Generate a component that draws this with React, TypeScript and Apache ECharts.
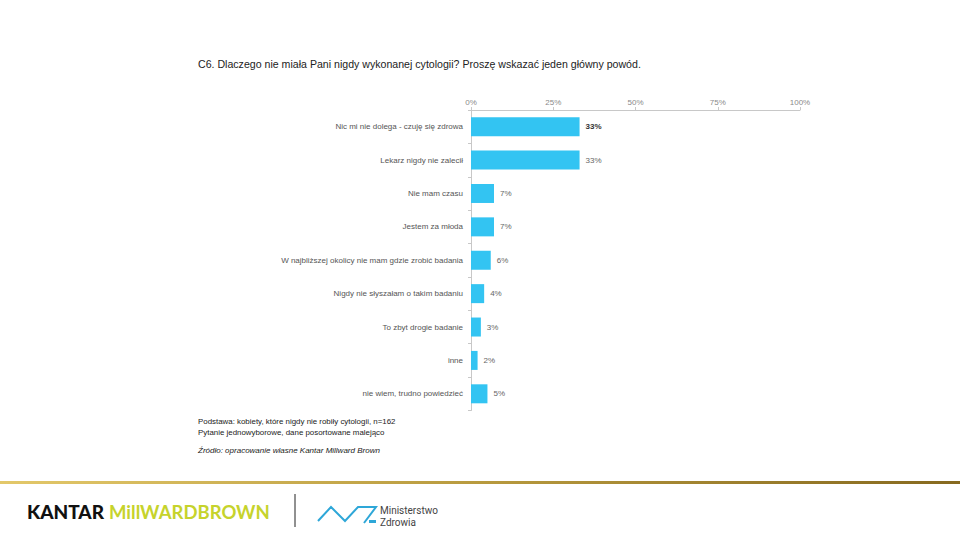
import React, { useEffect, useRef } from "react";
import * as echarts from "echarts";

const categories = [
  "Nic mi nie dolega - czuję się zdrowa",
  "Lekarz nigdy nie zalecił",
  "Nie mam czasu",
  "Jestem za młoda",
  "W najbliższej okolicy nie mam gdzie zrobić badania",
  "Nigdy nie słyszałam o takim badaniu",
  "To zbyt drogie badanie",
  "inne",
  "nie wiem, trudno powiedzieć",
];
const values = [33, 33, 7, 7, 6, 4, 3, 2, 5];
const xTicks = [0, 25, 50, 75, 100];

const title =
  "C6. Dlaczego nie miała Pani nigdy wykonanej cytologii? Proszę wskazać jeden główny powód.";
const notes = [
  "Podstawa: kobiety, które nigdy nie robiły cytologii, n=162",
  "Pytanie jednowyborowe, dane posortowane malejąco",
];
const source = "Źródło: opracowanie własne Kantar Millward Brown";

export default function App() {
  const ref = useRef<HTMLDivElement>(null);
  useEffect(() => {
    if (!ref.current) return;
    const chart = echarts.init(ref.current, null, { renderer: "svg" });
    const font = "Liberation Sans, Arial, sans-serif";
    chart.setOption({
      animation: false,
      backgroundColor: "#ffffff",
      textStyle: { fontFamily: font },
      grid: { left: 471, right: 160, top: 110, bottom: 129.5, containLabel: false },
      xAxis: {
        type: "value",
        position: "top",
        min: xTicks[0],
        max: xTicks[xTicks.length - 1],
        interval: 25,
        axisLine: { show: true, lineStyle: { color: "#c8c8c8", width: 1 } },
        axisTick: { show: true, length: 3, lineStyle: { color: "#c8c8c8" } },
        splitLine: { show: false },
        axisLabel: {
          formatter: "{value}%",
          color: "#8a8a8a",
          fontSize: 8,
          margin: 4,
          fontFamily: font,
        },
      },
      yAxis: {
        type: "category",
        inverse: true,
        data: categories,
        axisLine: { show: true, lineStyle: { color: "#c8c8c8", width: 1 } },
        axisTick: { show: true, length: 3, lineStyle: { color: "#c8c8c8" } },
        axisLabel: { color: "#555555", fontSize: 8, margin: 8, fontFamily: font },
      },
      series: [
        {
          type: "bar",
          data: values.map((v, i) => ({
            value: v,
            label: i === 0 ? { color: "#333333", fontWeight: "bold" } : undefined,
          })),
          barWidth: 19,
          itemStyle: { color: "#33c4f2" },
          label: {
            show: true,
            position: "right",
            distance: 6,
            formatter: "{c}%",
            color: "#666666",
            fontSize: 8,
            fontFamily: font,
          },
        },
      ],
      graphic: [
        {
          type: "text",
          left: 198,
          top: 58,
          style: { text: title, fill: "#222222", fontSize: 10.6, fontFamily: font },
        },
        {
          type: "text",
          left: 198,
          top: 417,
          style: { text: notes[0], fill: "#222222", fontSize: 7.9, fontFamily: font },
        },
        {
          type: "text",
          left: 198,
          top: 428,
          style: { text: notes[1], fill: "#222222", fontSize: 7.9, fontFamily: font },
        },
        {
          type: "text",
          left: 198,
          top: 446,
          style: {
            text: source,
            fill: "#222222",
            fontSize: 8,
            fontStyle: "italic",
            fontFamily: font,
          },
        },
        {
          type: "rect",
          shape: { x: 0, y: 481, width: 960, height: 3 },
          style: {
            fill: new echarts.graphic.LinearGradient(0, 0, 1, 0, [
              { offset: 0, color: "#e3c86a" },
              { offset: 0.5, color: "#b89a3e" },
              { offset: 1, color: "#86691f" },
            ]),
          },
          silent: true,
        },
        {
          type: "text",
          left: 27,
          top: 502,
          style: {
            text: "KANTAR",
            fill: "#111111",
            fontSize: 19,
            fontWeight: 900,
            fontFamily: "Lato, sans-serif",
          },
        },
        {
          type: "text",
          left: 109,
          top: 502,
          style: {
            text: "MillWARDBROWN",
            fill: "#c6d32c",
            fontSize: 18.5,
            fontWeight: 700,
            fontFamily: "Lato, sans-serif",
          },
        },
        {
          type: "line",
          shape: { x1: 295, y1: 494, x2: 295, y2: 527 },
          style: { stroke: "#222222", lineWidth: 1 },
        },
        {
          type: "polyline",
          shape: {
            points: [
              [318, 521],
              [331, 507],
              [345, 521],
              [358, 507],
              [376, 507],
              [364, 523],
            ],
          },
          style: { stroke: "#2ea7d8", lineWidth: 2, fill: "none" },
        },
        {
          type: "rect",
          shape: { x: 369, y: 520, width: 7, height: 3 },
          style: { fill: "#2ea7d8" },
        },
        {
          type: "text",
          left: 380,
          top: 505,
          style: {
            text: "Ministerstwo",
            fill: "#444444",
            fontSize: 10,
            lineHeight: 10,
            fontFamily: "Roboto, sans-serif",
          },
        },
        {
          type: "text",
          left: 380,
          top: 517,
          style: {
            text: "Zdrowia",
            fill: "#444444",
            fontSize: 10,
            lineHeight: 10,
            fontFamily: "Roboto, sans-serif",
          },
        },
      ],
    });
    return () => chart.dispose();
  }, []);
  return (
    <div
      ref={ref}
      style={{ position: "fixed", left: 0, top: 0, width: 960, height: 540 }}
    />
  );
}
